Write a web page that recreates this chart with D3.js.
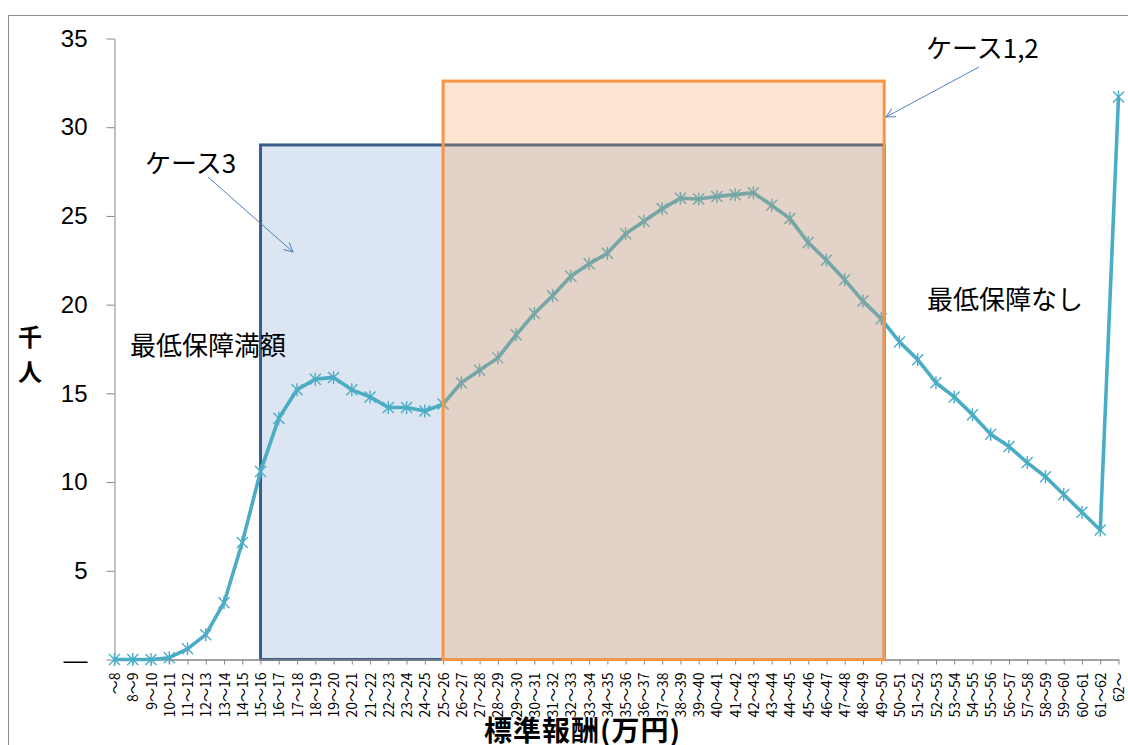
<!DOCTYPE html>
<html>
<head>
<meta charset="utf-8">
<script src="https://cdn.jsdelivr.net/npm/d3@7"></script>
<style>
  html, body { margin: 0; padding: 0; background: #fff; }
  svg { display: block; }
</style>
</head>
<body>
<svg id="chart" width="1128" height="745"></svg>
<script>
// 標準報酬月額の等級（万円）
const categories = [
  "～8", "8～9", "9～10", "10～11", "11～12", "12～13", "13～14", "14～15",
  "15～16", "16～17", "17～18", "18～19", "19～20", "20～21", "21～22", "22～23",
  "23～24", "24～25", "25～26", "26～27", "27～28", "28～29", "29～30", "30～31",
  "31～32", "32～33", "33～34", "34～35", "35～36", "36～37", "37～38", "38～39",
  "39～40", "40～41", "41～42", "42～43", "43～44", "44～45", "45～46", "46～47",
  "47～48", "48～49", "49～50", "50～51", "51～52", "52～53", "53～54", "54～55",
  "55～56", "56～57", "57～58", "58～59", "59～60", "60～61", "61～62", "62～"
];

// 人数（千人）
const persons = [
  0, 0, 0, 0.1, 0.6, 1.4, 3.2, 6.6,
  10.6, 13.6, 15.2, 15.8, 15.9, 15.2, 14.8, 14.2,
  14.2, 14.0, 14.4, 15.6, 16.3, 17.0, 18.3, 19.5,
  20.5, 21.6, 22.3, 22.9, 24.0, 24.7, 25.4, 26.0,
  25.95, 26.1, 26.2, 26.3, 25.6, 24.85, 23.5, 22.5,
  21.4, 20.2, 19.2, 17.9, 16.9, 15.6, 14.8, 13.8,
  12.7, 12.0, 11.1, 10.3, 9.3, 8.3, 7.3, 31.7
];

const yTicks = [0, 5, 10, 15, 20, 25, 30, 35];

// 対象範囲（ケース3／ケース1,2）
const case3Range = { from: "15～16", to: "49～50", top: 29 };
const case12Range = { from: "25～26", to: "49～50", top: 32.6 };

const svg = d3.select("#chart");

const x = d3.scalePoint().domain(categories).range([114.5, 1118.5]);
const y = d3.scaleLinear().domain([0, 35]).range([659.5, 38.5]);

// 外枠
svg.append("rect")
  .attr("x", 8.5).attr("y", 15.5)
  .attr("width", 1140).attr("height", 760)
  .attr("fill", "none").attr("stroke", "#8c8c8c").attr("stroke-width", 1);

// ケース3 の範囲（線の背面）
svg.append("rect")
  .attr("x", x(case3Range.from))
  .attr("y", y(case3Range.top))
  .attr("width", x(case3Range.to) - x(case3Range.from) + 3)
  .attr("height", y(0) - y(case3Range.top))
  .attr("fill", "rgba(79,129,189,0.2)")
  .attr("stroke", "#385d8a")
  .attr("stroke-width", 3);

// 軸
const yAxis = d3.axisLeft(y)
  .tickValues(yTicks)
  .tickSize(8)
  .tickSizeOuter(0)
  .tickPadding(19)
  .tickFormat(d => d === 0 ? "—" : d3.format("d")(d));

const gy = svg.append("g").attr("transform", "translate(114.5,0)").call(yAxis);
gy.select(".domain").attr("stroke", "#868686");
gy.selectAll(".tick line").attr("stroke", "#868686");
gy.selectAll(".tick text")
  .attr("fill", "#000")
  .style("font-family", "'Liberation Sans', Arial, sans-serif")
  .style("font-size", "24px");

const xAxis = d3.axisBottom(x).tickSize(5).tickSizeOuter(0).tickPadding(0);
const gx = svg.append("g").attr("transform", `translate(0,${y(0)})`).call(xAxis);
gx.select(".domain").attr("stroke", "#868686").attr("stroke-width", 1.5);
gx.selectAll(".tick line").attr("stroke", "#868686");
gx.selectAll(".tick text")
  .attr("fill", "#000")
  .attr("transform", "rotate(-90)")
  .attr("text-anchor", "end")
  .attr("x", -13)
  .attr("y", 0)
  .attr("dy", "0.36em")
  .style("font-family", "'Noto Sans CJK JP', sans-serif")
  .style("font-size", "14px");

// 折れ線
const line = d3.line()
  .x((d, i) => x(categories[i]))
  .y(d => y(d));

svg.append("path")
  .datum(persons)
  .attr("d", line)
  .attr("fill", "none")
  .attr("stroke", "#4bacc6")
  .attr("stroke-width", 3.6)
  .attr("stroke-linejoin", "round");

// 星形マーカー
const s = 5.5;
svg.append("g").selectAll("path")
  .data(persons)
  .join("path")
  .attr("transform", (d, i) => `translate(${x(categories[i])},${y(d)})`)
  .attr("d", `M${-s},${-s}L${s},${s}M${-s},${s}L${s},${-s}M0,${-s - 1}L0,${s + 1}`)
  .attr("stroke", "#4bacc6")
  .attr("stroke-width", 1.4)
  .attr("fill", "none");

// ケース1,2 の範囲（半透明で前面）
svg.append("rect")
  .attr("x", x(case12Range.from))
  .attr("y", y(case12Range.top))
  .attr("width", x(case12Range.to) - x(case12Range.from) + 3)
  .attr("height", y(0) - y(case12Range.top))
  .attr("fill", "rgba(247,150,70,0.25)")
  .attr("stroke", "#f79646")
  .attr("stroke-width", 3);

// 注記
const noteFont = "'Noto Sans CJK JP', sans-serif";
const notes = svg.append("g")
  .style("font-family", noteFont)
  .style("font-size", "26px")
  .attr("fill", "#000");

notes.append("text").attr("x", 145).attr("y", 173).text("ケース3");
notes.append("text").attr("x", 926).attr("y", 58).text("ケース1,2");
notes.append("text").attr("x", 130).attr("y", 355).text("最低保障満額");
notes.append("text").attr("x", 927).attr("y", 309).text("最低保障なし");

// 矢印
svg.append("defs").append("marker")
  .attr("id", "arrow")
  .attr("viewBox", "-10 -6 12 12")
  .attr("refX", 0).attr("refY", 0)
  .attr("markerWidth", 12).attr("markerHeight", 12)
  .attr("markerUnits", "userSpaceOnUse")
  .attr("orient", "auto")
  .append("path")
  .attr("d", "M-9,-4.5L0,0L-9,4.5")
  .attr("fill", "none")
  .attr("stroke", "#4f81bd")
  .attr("stroke-width", 1);

svg.append("line")
  .attr("x1", 208).attr("y1", 177).attr("x2", 293).attr("y2", 252)
  .attr("stroke", "#4f81bd").attr("stroke-width", 1)
  .attr("marker-end", "url(#arrow)");

svg.append("line")
  .attr("x1", 979).attr("y1", 67).attr("x2", 886).attr("y2", 117)
  .attr("stroke", "#4f81bd").attr("stroke-width", 1)
  .attr("marker-end", "url(#arrow)");

// 軸タイトル（縦書き）
const yTitleStyle = t => t
  .attr("fill", "#000")
  .attr("text-anchor", "middle")
  .style("font-family", noteFont)
  .style("font-weight", "bold")
  .style("font-size", "24px");
svg.append("text").call(yTitleStyle).attr("x", 30).attr("y", 346).text("千");
svg.append("text").call(yTitleStyle).attr("x", 30).attr("y", 381).text("人");

svg.append("text")
  .attr("x", 484).attr("y", 741)
  .attr("fill", "#000")
  .style("font-family", noteFont)
  .style("font-weight", "bold")
  .style("font-size", "28px")
  .attr("textLength", 196)
  .text("標準報酬(万円)");
</script>
</body>
</html>
